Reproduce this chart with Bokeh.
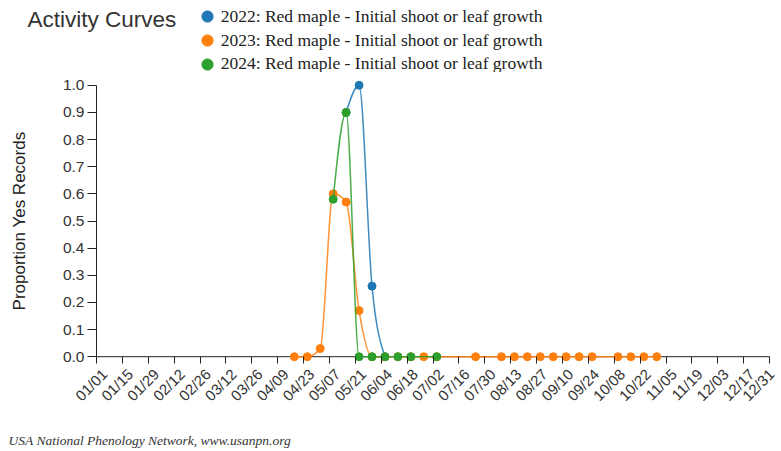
import math
from bokeh.plotting import figure
from bokeh.layouts import column
from bokeh.models import (Range1d, FixedTicker, NumeralTickFormatter, Legend, LegendItem,
                          Label, LinearAxis)
from bokeh.embed import file_html
from bokeh.resources import INLINE

# ---- data (day of year, proportion yes records) ----
blue_days = [136, 143, 150, 157]
blue_vals = [0.90, 1.00, 0.26, 0.0]

orange_days = [108, 115, 122, 129, 136, 143, 150, 157, 164, 171, 178, 185,
               206, 220, 227, 234, 241, 248, 255, 262, 269, 283, 290, 297, 304]
orange_vals = [0.0, 0.0, 0.03, 0.60, 0.57, 0.17, 0.0, 0.0, 0.0, 0.0, 0.0, 0.0,
               0.0, 0.0, 0.0, 0.0, 0.0, 0.0, 0.0, 0.0, 0.0, 0.0, 0.0, 0.0, 0.0]

green_days = [129, 136, 143, 150, 157, 164, 171, 185]
green_vals = [0.58, 0.90, 0.0, 0.0, 0.0, 0.0, 0.0, 0.0]

series_labels = ["2022: Red maple - Initial shoot or leaf growth",
                 "2023: Red maple - Initial shoot or leaf growth",
                 "2024: Red maple - Initial shoot or leaf growth"]
series_colors = ["#1f77b4", "#ff7f0e", "#2ca02c"]

tick_days = [1, 15, 29, 43, 57, 71, 85, 99, 113, 127, 141, 155, 169, 183, 197,
             211, 225, 239, 253, 267, 281, 295, 309, 323, 337, 351, 365]
tick_labels = ["01/01", "01/15", "01/29", "02/12", "02/26", "03/12", "03/26", "04/09",
               "04/23", "05/07", "05/21", "06/04", "06/18", "07/02", "07/16", "07/30",
               "08/13", "08/27", "09/10", "09/24", "10/08", "10/22", "11/05", "11/19",
               "12/03", "12/17", "12/31"]
y_ticks = [0.0, 0.1, 0.2, 0.3, 0.4, 0.5, 0.6, 0.7, 0.8, 0.9, 1.0]

chart_title = "Activity Curves"
footer_text = "USA National Phenology Network, www.usanpn.org"

W = 777
TOP_H = 72
MAIN_H = 346
BOT_H = 33
LABEL_SHIFT_DAYS = 4.3   # rotated tick labels sit slightly right of their ticks


def monotone_segments(xs, ys):
    """Cubic bezier segments equivalent to d3.curveMonotoneX."""
    n = len(xs)
    def sgn(v):
        return -1 if v < 0 else 1
    m = [0.0] * n
    if n == 2:
        s = (ys[1] - ys[0]) / (xs[1] - xs[0])
        m = [s, s]
    else:
        for i in range(1, n - 1):
            h0 = xs[i] - xs[i - 1]
            h1 = xs[i + 1] - xs[i]
            s0 = (ys[i] - ys[i - 1]) / h0
            s1 = (ys[i + 1] - ys[i]) / h1
            p_ = (s0 * h1 + s1 * h0) / (h0 + h1)
            m[i] = (sgn(s0) + sgn(s1)) * min(abs(s0), abs(s1), 0.5 * abs(p_))
        sf = (ys[1] - ys[0]) / (xs[1] - xs[0])
        m[0] = (3 * sf - m[1]) / 2
        sl = (ys[-1] - ys[-2]) / (xs[-1] - xs[-2])
        m[-1] = (3 * sl - m[-2]) / 2
    seg = dict(x0=[], y0=[], x1=[], y1=[], cx0=[], cy0=[], cx1=[], cy1=[])
    for i in range(n - 1):
        dx = (xs[i + 1] - xs[i]) / 3
        seg["x0"].append(xs[i]); seg["y0"].append(ys[i])
        seg["x1"].append(xs[i + 1]); seg["y1"].append(ys[i + 1])
        seg["cx0"].append(xs[i] + dx); seg["cy0"].append(ys[i] + dx * m[i])
        seg["cx1"].append(xs[i + 1] - dx); seg["cy1"].append(ys[i + 1] - dx * m[i + 1])
    return seg


def blank_fig(h):
    f = figure(width=W, height=h, output_backend="svg", toolbar_location=None,
               x_range=Range1d(0, W), y_range=Range1d(0, h),
               x_axis_location=None, y_axis_location=None, min_border=0)
    f.title.visible = False
    f.outline_line_color = None
    f.xgrid.visible = False
    f.ygrid.visible = False
    return f


all_days = [blue_days, orange_days, green_days]
all_vals = [blue_vals, orange_vals, green_vals]

# ---------------- header: title + series legend ----------------
top = blank_fig(TOP_H)
top.add_layout(Label(x=27, y=TOP_H - 19, text=chart_title, text_font="Liberation Sans",
                     text_font_size="22.5px", text_color="#333333", text_baseline="middle"))
row_offsets = [TOP_H - 30, TOP_H - 54, TOP_H - 77.5]
for days, vals, col, lab, vy in zip(all_days, all_vals, series_colors, series_labels, row_offsets):
    r = top.scatter(days, vals, size=8, fill_color=col, line_color=col, visible=False)
    lg = Legend(items=[LegendItem(label=lab, renderers=[r])], location=(192.7, vy),
                glyph_width=28, glyph_height=28, label_height=20, label_standoff=0,
                spacing=0, padding=0, margin=0, border_line_color=None,
                background_fill_alpha=0, inactive_fill_alpha=0,
                label_text_font="Liberation Serif", label_text_font_size="17.5px",
                label_text_color="#222222")
    top.add_layout(lg, "center")

# ---------------- main chart ----------------
x_start, x_end = tick_days[0], tick_days[-1]
p = figure(width=W, height=MAIN_H, output_backend="svg", toolbar_location=None,
           x_range=Range1d(x_start, x_end + LABEL_SHIFT_DAYS), y_range=Range1d(-0.025, 1.025),
           min_border_left=96, min_border_right=0, min_border_top=6,
           min_border_bottom=MAIN_H - 6 - 285)
p.title.visible = False
p.outline_line_color = None
p.xgrid.visible = False
p.ygrid.visible = False
p.extra_x_ranges = {"labels": Range1d(x_start - LABEL_SHIFT_DAYS, x_end)}

# tick marks (reach from frame bottom up to the y=0 line)
xt = p.xaxis[0]
xt.ticker = FixedTicker(ticks=tick_days)
xt.minor_tick_line_color = None
xt.axis_line_color = None
xt.major_tick_in = 7
xt.major_tick_out = 0
xt.major_tick_line_color = "#222222"
xt.major_label_text_font_size = "1px"
xt.major_label_text_color = None
xt.major_label_standoff = 0

# x axis base line at y = 0, from first to last tick
p.segment(x0=[x_start], y0=[y_ticks[0]], x1=[x_end], y1=[y_ticks[0]],
          line_color="#222222", line_width=1)

# rotated tick labels
xl = LinearAxis(x_range_name="labels", ticker=FixedTicker(ticks=tick_days),
                major_label_overrides={d: l for d, l in zip(tick_days, tick_labels)},
                major_label_orientation=math.pi / 4, axis_line_color=None,
                major_tick_line_color=None, minor_tick_line_color=None,
                major_tick_in=0, major_tick_out=0, major_label_standoff=8,
                major_label_text_font="Liberation Sans", major_label_text_font_size="15px",
                major_label_text_color="#333333")
p.add_layout(xl, "below")

yax = p.yaxis[0]
yax.ticker = FixedTicker(ticks=y_ticks)
yax.formatter = NumeralTickFormatter(format="0.0")
yax.minor_tick_line_color = None
yax.bounds = (0, 1)
yax.major_tick_in = 0
yax.major_tick_out = 9
yax.major_label_standoff = 3
yax.axis_line_color = "#222222"
yax.major_tick_line_color = "#222222"
yax.major_label_text_font = "Liberation Sans"
yax.major_label_text_font_size = "15.5px"
yax.major_label_text_color = "#333333"
yax.axis_label = "Proportion Yes Records"
yax.axis_label_text_font = "Liberation Sans"
yax.axis_label_text_font_style = "normal"
yax.axis_label_text_font_size = "17px"
yax.axis_label_text_color = "#222222"
yax.axis_label_standoff = 31

for days, vals, col in zip(all_days, all_vals, series_colors):
    seg = monotone_segments(days, vals)
    p.bezier(line_color=col, line_width=1.5, line_alpha=0.85, **seg)
    p.scatter(days, vals, size=8, fill_color=col, line_color=col)

# ---------------- footer ----------------
bot = blank_fig(BOT_H)
bot.add_layout(Label(x=8, y=11, text=footer_text, text_font="Liberation Serif",
                     text_font_style="italic", text_font_size="13.5px",
                     text_color="#333333", text_baseline="middle"))

for f in (top, p, bot):
    try:
        f.frame_align = False
    except Exception:
        pass

layout = column(top, p, bot, spacing=0)
open("out.html", "w").write(file_html(layout, INLINE))
